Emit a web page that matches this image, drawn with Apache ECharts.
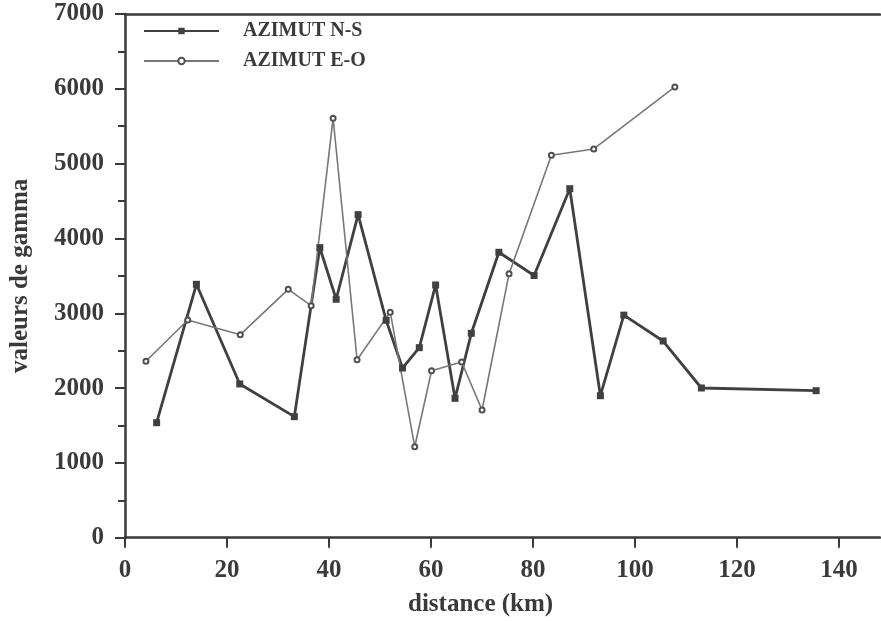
<!DOCTYPE html>
<html>
<head>
<meta charset="utf-8">
<script src="https://cdn.jsdelivr.net/npm/echarts@6/dist/echarts.min.js"></script>
<style>
html,body{margin:0;padding:0;background:#fff;}
#chart{width:881px;height:621px;}
</style>
</head>
<body>
<div id="chart"></div>
<script>
// Data (distance km, gamma value)
const seriesNames = ['AZIMUT N-S', 'AZIMUT E-O'];
const nsDistance = [6.2, 14.0, 22.5, 33.2, 38.2, 41.4, 45.7, 51.2, 54.4, 57.7, 60.9, 64.7, 67.9, 73.3, 80.2, 87.2, 93.2, 97.8, 105.5, 113.0, 135.5];
const nsGamma    = [1537, 3387, 2055, 1618, 3877, 3187, 4318, 2906, 2268, 2540, 3378, 1863, 2732, 3815, 3505, 4665, 1898, 2975, 2629, 2001, 1965];
const eoDistance = [4.1, 12.3, 22.6, 32.0, 36.5, 40.8, 45.5, 52.0, 56.8, 60.1, 66.0, 70.0, 75.3, 83.6, 91.9, 107.8];
const eoGamma    = [2358, 2910, 2714, 3320, 3101, 5606, 2379, 3015, 1216, 2232, 2349, 1707, 3529, 5112, 5196, 6025];
const xTitle = 'distance (km)';
const yTitle = 'valeurs de gamma';

const pair = (xs, ys) => xs.map((x, i) => [x, ys[i]]);
const FONT = '"Liberation Serif", "Times New Roman", serif';
const INK = '#3a3a3a';
const X_MAX = 148;

const chart = echarts.init(document.getElementById('chart'), null, {renderer: 'canvas'});
chart.setOption({
  backgroundColor: '#ffffff',
  animation: false,
  grid: {left: 122.3, top: 14, width: 757.6, height: 523.7},
  legend: {
    orient: 'vertical',
    left: 138, top: 16,
    itemWidth: 75, itemHeight: 8, itemGap: 10,
    textStyle: {fontFamily: FONT, fontWeight: 'bold', fontSize: 20, color: INK, padding: [0, 0, 0, 19], lineHeight: 20},
    data: seriesNames
  },
  xAxis: [{
    type: 'value', min: 0, max: X_MAX, interval: 20,
    splitLine: {show: false},
    axisLine: {lineStyle: {color: INK, width: 2.5}},
    axisTick: {length: 10, lineStyle: {color: INK, width: 2}},
    axisLabel: {fontFamily: FONT, fontWeight: 'bold', fontSize: 25, color: INK, margin: 20, showMaxLabel: false}
  }, {
    type: 'value', position: 'top', min: 0, max: X_MAX, interval: 20,
    splitLine: {show: false},
    axisLine: {show: true, lineStyle: {color: INK, width: 2.5}},
    axisTick: {show: false},
    axisLabel: {show: false}
  }],
  yAxis: {
    type: 'value', min: 0, max: 7000, interval: 1000,
    name: yTitle, nameLocation: 'middle', nameGap: 92, nameRotate: 90,
    nameTextStyle: {fontFamily: FONT, fontWeight: 'bold', fontSize: 25, color: INK},
    splitLine: {show: false},
    axisLine: {lineStyle: {color: INK, width: 2.5}},
    axisTick: {length: 10, lineStyle: {color: INK, width: 2}},
    minorTick: {show: true, splitNumber: 2, length: 7, lineStyle: {color: INK, width: 2}},
    minorSplitLine: {show: false},
    axisLabel: {fontFamily: FONT, fontWeight: 'bold', fontSize: 25, color: INK, margin: 21, formatter: v => String(v)}
  },
  graphic: [{
    type: 'text', left: 408, top: 592,
    style: {text: xTitle, font: 'bold 25px ' + FONT, fill: INK}
  }],
  series: [
    {
      name: seriesNames[0], type: 'line', xAxisIndex: 0,
      data: pair(nsDistance, nsGamma),
      symbol: 'rect', symbolSize: 7,
      lineStyle: {color: '#404040', width: 2.8},
      itemStyle: {color: '#404040'}
    },
    {
      name: seriesNames[1], type: 'line', xAxisIndex: 0,
      data: pair(eoDistance, eoGamma),
      symbol: 'emptyCircle', symbolSize: 5,
      lineStyle: {color: '#777777', width: 1.6},
      itemStyle: {color: '#505050', borderColor: '#505050', borderWidth: 1.5}
    }
  ]
});
</script>
</body>
</html>
